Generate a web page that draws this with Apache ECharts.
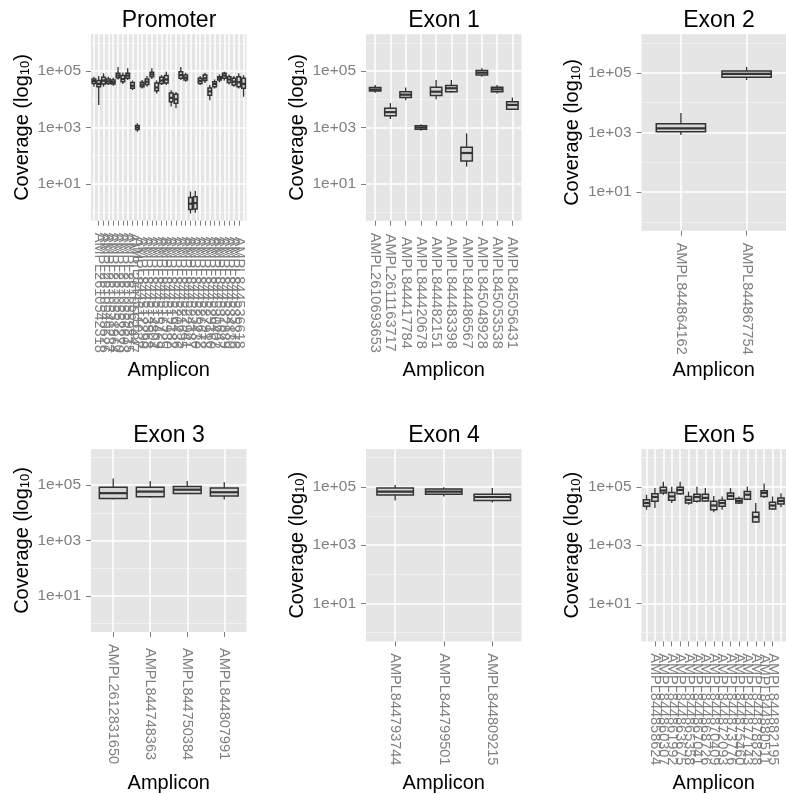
<!DOCTYPE html>
<html>
<head>
<meta charset="utf-8">
<script src="https://cdn.jsdelivr.net/npm/echarts@6/dist/echarts.min.js"></script>
<style>
html,body{margin:0;padding:0;background:#ffffff;}
#chart{width:786px;height:794px;}
</style>
</head>
<body>
<div id="chart"></div>
<script>
// ---------------- DATA (coverage values: [whiskerLow, Q1, median, Q3, whiskerHigh]) ----------------
const promoterAmplicons = [
  'AMPL2610540911','AMPL2610542318','AMPL2610545526','AMPL2610548237','AMPL2610551964',
  'AMPL2610553270','AMPL2610556603','AMPL2610559815','AMPL2610562447',
  'AMPL844511037','AMPL844512290','AMPL844513568','AMPL844514804','AMPL844515469',
  'AMPL844516725','AMPL844517930','AMPL844519182','AMPL844520436','AMPL844521695',
  'AMPL844522941','AMPL844524187','AMPL844525430','AMPL844526672','AMPL844527918',
  'AMPL844529160','AMPL844530402','AMPL844531647','AMPL844532889','AMPL844534130',
  'AMPL844535376','AMPL844536618','AMPL844537861'
];
const promoterCoverage = [
  [28000, 36000, 44000, 52000, 63000],
  [6300, 28000, 35000, 46000, 66000],
  [28000, 35000, 46000, 60000, 83000],
  [32000, 36000, 43000, 52000, 63000],
  [30000, 35000, 40000, 48000, 58000],
  [50000, 58000, 69000, 83000, 140000],
  [35000, 42000, 52000, 69000, 89000],
  [48000, 55000, 69000, 83000, 126000],
  [21000, 24500, 30000, 39000, 46000],
  [710, 850, 1000, 1170, 1410],
  [24000, 28000, 33000, 40000, 48000],
  [28000, 33000, 42000, 52000, 66000],
  [52000, 63000, 76000, 91000, 126000],
  [16000, 20000, 26000, 38000, 46000],
  [32000, 36000, 46000, 60000, 72000],
  [32000, 38000, 50000, 69000, 95000],
  [5500, 8100, 11200, 16600, 21000],
  [4800, 7200, 10000, 15000, 18000],
  [48000, 55000, 72000, 95000, 140000],
  [42000, 48000, 58000, 72000, 87000],
  [0.9, 1.26, 2.0, 3.3, 5.4],
  [0.95, 1.3, 2.1, 3.5, 5.6],
  [32000, 36000, 45000, 55000, 66000],
  [38000, 46000, 55000, 72000, 87000],
  [9300, 14000, 19000, 25000, 32000],
  [24000, 28000, 35000, 42000, 50000],
  [40000, 48000, 55000, 63000, 76000],
  [46000, 55000, 69000, 83000, 95000],
  [33000, 39000, 50000, 63000, 76000],
  [28000, 32000, 42000, 55000, 66000],
  [24000, 28000, 40000, 63000, 83000],
  [12300, 24500, 35000, 55000, 71000]
];

const exon1Amplicons = [
  'AMPL2610693653','AMPL2611163717','AMPL844417784','AMPL844420678','AMPL844482151',
  'AMPL844483398','AMPL844486567','AMPL845048928','AMPL845053538','AMPL845056431'
];
const exon1Coverage = [
  [17000, 19500, 22000, 26000, 32000],
  [2000, 2600, 3500, 4800, 7300],
  [9300, 11500, 14500, 18500, 26000],
  [760, 870, 1000, 1150, 1300],
  [10000, 13500, 18500, 26500, 48000],
  [17000, 18500, 24500, 31000, 48000],
  [41, 65, 125, 200, 620],
  [63000, 72000, 87000, 105000, 125000],
  [16000, 18500, 22500, 26500, 32000],
  [4200, 4400, 6300, 8100, 11500]
];

const exon2Amplicons = ['AMPL844864162','AMPL844867754'];
const exon2Coverage = [
  [830, 1070, 1380, 1950, 4500],
  [58000, 72000, 93000, 117000, 160000]
];

const exon3Amplicons = ['AMPL2612831650','AMPL844748363','AMPL844750384','AMPL844807991'];
const exon3Coverage = [
  [30000, 33000, 51000, 83000, 174000],
  [35000, 38000, 58000, 83000, 140000],
  [48000, 50000, 68000, 89000, 140000],
  [30000, 40000, 55000, 78000, 125000]
];

const exon4Amplicons = ['AMPL844793744','AMPL844799501','AMPL844809215'];
const exon4Coverage = [
  [34000, 53000, 69000, 91000, 117000],
  [47000, 56000, 69000, 84000, 98000],
  [29000, 34000, 45000, 56000, 91000]
];

const exon5Amplicons = [
  'AMPL844856941','AMPL844858624','AMPL844860307','AMPL844861992','AMPL844863675',
  'AMPL844865358','AMPL844867041','AMPL844868726','AMPL844870409','AMPL844872093',
  'AMPL844873776','AMPL844875460','AMPL844877143','AMPL844878828','AMPL844880511',
  'AMPL844882195','AMPL844883878'
];
const exon5Coverage = [
  [16500, 21500, 28000, 36000, 54000],
  [19000, 32000, 45000, 58000, 91000],
  [54000, 62000, 75000, 98000, 150000],
  [28000, 35000, 47000, 64000, 102000],
  [54000, 58000, 79000, 98000, 150000],
  [24500, 28000, 36000, 47000, 69000],
  [29000, 32000, 45000, 56000, 102000],
  [31000, 33000, 42000, 56000, 91000],
  [13500, 16500, 23000, 32000, 49000],
  [16500, 21500, 28000, 35000, 47000],
  [36000, 38000, 49000, 62000, 91000],
  [26000, 28000, 33000, 40000, 47000],
  [35000, 38000, 54000, 69000, 102000],
  [5900, 6200, 9300, 13500, 28000],
  [42000, 47000, 62000, 74000, 132000],
  [16500, 17500, 23000, 29500, 47000],
  [20000, 26000, 33000, 42000, 60000]
];

const panelTitles = ['Promoter','Exon 1','Exon 2','Exon 3','Exon 4','Exon 5'];
const majorBreaks = [10, 1000, 100000];
const minorBreaks = [1, 100, 10000, 1000000];
const yLimits = [Math.pow(10, -0.3), Math.pow(10, 6.3)];

// ---------------- LAYOUT ----------------
const FONT = '"Liberation Sans", Arial, Helvetica, sans-serif';
const panelData = [
  {names: promoterAmplicons, stats: promoterCoverage},
  {names: exon1Amplicons, stats: exon1Coverage},
  {names: exon2Amplicons, stats: exon2Coverage},
  {names: exon3Amplicons, stats: exon3Coverage},
  {names: exon4Amplicons, stats: exon4Coverage},
  {names: exon5Amplicons, stats: exon5Coverage}
];
const layout = [
  {left: 91,    top: 34.3, height: 186.4, cx: 169,  titleTop: 9,   labelMargin: 72, xNameGap: 140},
  {left: 366,   top: 34.3, height: 186.4, cx: 444,  titleTop: 9,   labelMargin: 72, xNameGap: 140},
  {left: 641.5, top: 34.3, height: 196.4, cx: 719,  titleTop: 9,   labelMargin: 68, xNameGap: 130},
  {left: 91,    top: 449,  height: 185,   cx: 169,  titleTop: 424, labelMargin: 72, xNameGap: 141},
  {left: 366,   top: 449,  height: 194.4, cx: 444,  titleTop: 424, labelMargin: 68, xNameGap: 131.6},
  {left: 641.5, top: 449,  height: 194.4, cx: 719,  titleTop: 424, labelMargin: 68, xNameGap: 131.6}
];
const PANEL_W = 155.5;

function expLabel(v) {
  const e = Math.round(Math.log10(v));
  return '1e+' + (e < 10 ? '0' : '') + e;
}

function renderBox(params, api) {
  const x = api.value(0);
  const lo = api.coord([x, api.value(1)]);
  const q1 = api.coord([x, api.value(2)]);
  const md = api.coord([x, api.value(3)]);
  const q3 = api.coord([x, api.value(4)]);
  const hi = api.coord([x, api.value(5)]);
  const half = Math.abs(api.coord([x + 0.375, api.value(3)])[0] - api.coord([x - 0.375, api.value(3)])[0]) / 2;
  const cx = md[0];
  const stroke = '#333333';
  return {
    type: 'group',
    children: [
      {type: 'line', shape: {x1: cx, y1: hi[1], x2: cx, y2: q3[1]}, style: {stroke: stroke, lineWidth: 1.3}},
      {type: 'line', shape: {x1: cx, y1: q1[1], x2: cx, y2: lo[1]}, style: {stroke: stroke, lineWidth: 1.3}},
      {type: 'rect', shape: {x: cx - half, y: q3[1], width: 2 * half, height: q1[1] - q3[1]},
        style: {fill: '#d6d6d6', stroke: stroke, lineWidth: 1.5}},
      {type: 'line', shape: {x1: cx - half, y1: md[1], x2: cx + half, y2: md[1]}, style: {stroke: stroke, lineWidth: 2.2}}
    ]
  };
}

const grids = [], xAxes = [], yAxes = [], series = [], titles = [];
panelData.forEach(function (p, i) {
  const L = layout[i];
  const idx = p.names.map(function (_, k) { return k + 1; });
  titles.push({
    text: panelTitles[i], left: L.cx, top: L.titleTop, textAlign: 'center', padding: 0,
    textStyle: {fontSize: 23, fontWeight: 'normal', color: '#000000', fontFamily: FONT}
  });
  grids.push({
    left: L.left, top: L.top, width: PANEL_W, height: L.height,
    show: true, backgroundColor: '#E5E5E5', borderWidth: 0
  });
  xAxes.push({
    type: 'value', gridIndex: i, min: 0.4, max: p.names.length + 0.6,
    axisLine: {show: false},
    axisTick: {show: true, customValues: idx, length: 5, lineStyle: {color: '#7F7F7F', width: 1}},
    axisLabel: {
      customValues: idx, rotate: -90, align: 'center', verticalAlign: 'middle',
      margin: L.labelMargin, fontSize: 14.5, color: '#7F7F7F', fontFamily: FONT,
      formatter: function (v) { return p.names[Math.round(v) - 1]; }
    },
    splitLine: {show: true, lineStyle: {color: '#FFFFFF', width: 1.5}},
    name: 'Amplicon', nameLocation: 'middle', nameGap: L.xNameGap,
    nameTextStyle: {fontSize: 20, color: '#000000', fontFamily: FONT}
  });
  yAxes.push({
    type: 'log', logBase: 10, gridIndex: i, min: yLimits[0], max: yLimits[1],
    axisLine: {show: false},
    axisTick: {show: true, customValues: majorBreaks, length: 5, lineStyle: {color: '#7F7F7F', width: 1}},
    axisLabel: {customValues: majorBreaks, margin: 10, fontSize: 15.5, color: '#7F7F7F', fontFamily: FONT, formatter: expLabel},
    splitLine: {show: true, lineStyle: {color: '#FFFFFF', width: 1.5}},
    minorTick: {show: false}, minorSplitLine: {show: false},
    name: 'Coverage (log{sub|10})', nameLocation: 'middle', nameGap: 59, nameRotate: 90,
    nameTextStyle: {
      fontSize: 20, color: '#000000', fontFamily: FONT,
      rich: {sub: {fontSize: 13, color: '#000000', fontFamily: FONT, verticalAlign: 'bottom', lineHeight: 14}}
    }
  });
  yAxes.push({
    type: 'log', logBase: 10, gridIndex: i, min: yLimits[0], max: yLimits[1], position: 'left',
    axisLine: {show: false},
    axisTick: {show: false, customValues: minorBreaks},
    axisLabel: {show: false},
    splitLine: {show: true, lineStyle: {color: '#F2F2F2', width: 0.8}}
  });
  series.push({
    type: 'custom', name: panelTitles[i], xAxisIndex: i, yAxisIndex: 2 * i,
    renderItem: renderBox,
    encode: {x: 0, y: [1, 2, 3, 4, 5]},
    data: p.stats.map(function (s, k) { return [k + 1].concat(s); }),
    clip: false, silent: true, z: 5
  });
});

const chart = echarts.init(document.getElementById('chart'), null, {renderer: 'canvas'});
chart.setOption({
  animation: false,
  backgroundColor: '#ffffff',
  title: titles,
  grid: grids,
  xAxis: xAxes,
  yAxis: yAxes,
  series: series
});
</script>
</body>
</html>
